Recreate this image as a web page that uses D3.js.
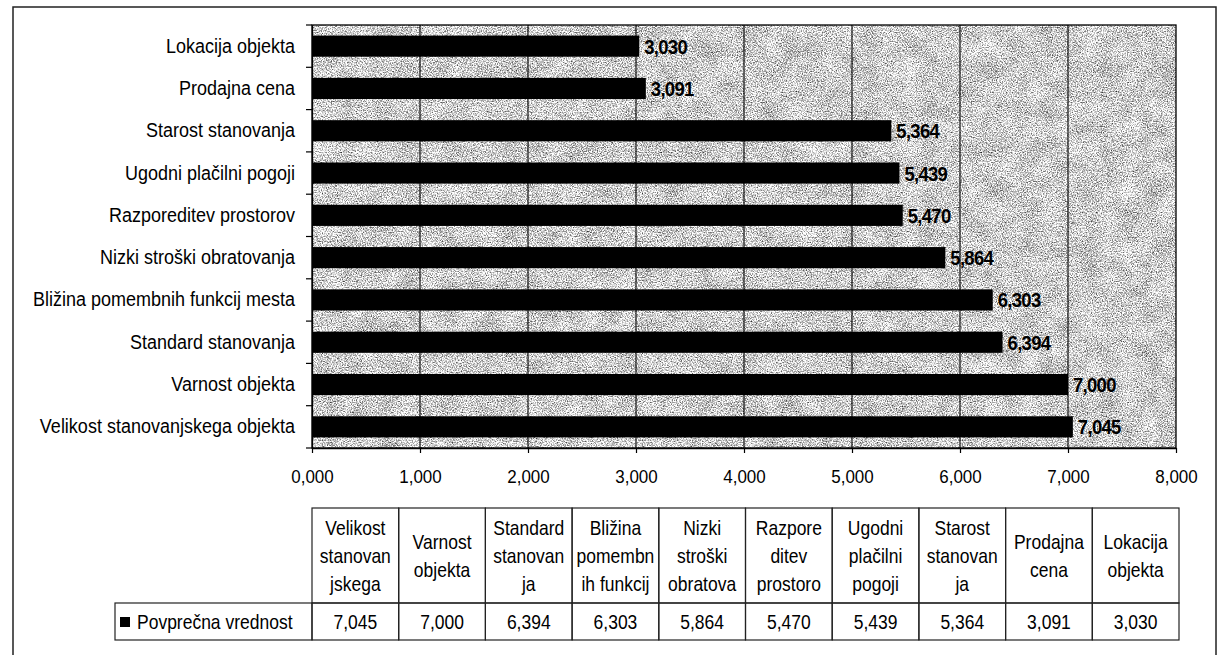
<!DOCTYPE html>
<html>
<head>
<meta charset="utf-8">
<script src="https://cdn.jsdelivr.net/npm/d3@7"></script>
<style>
  html, body { margin: 0; padding: 0; background: #fff; }
  svg { display: block; font-family: "Liberation Sans", Arial, sans-serif; }
</style>
</head>
<body>
<svg id="chart" width="1219" height="655"></svg>
<script>
// Factors, listed top to bottom as they appear on the chart
const categories = [
  "Lokacija objekta",
  "Prodajna cena",
  "Starost stanovanja",
  "Ugodni plačilni pogoji",
  "Razporeditev prostorov",
  "Nizki stroški obratovanja",
  "Bližina pomembnih funkcij mesta",
  "Standard stanovanja",
  "Varnost objekta",
  "Velikost stanovanjskega objekta"
];
// Average rating per factor
const values = [3.030, 3.091, 5.364, 5.439, 5.470, 5.864, 6.303, 6.394, 7.000, 7.045];
// Value axis ticks
const xTicks = [0, 1, 2, 3, 4, 5, 6, 7, 8];
// Wrapped column headings of the data table (left to right)
const tableHeaders = [
  ["Velikost", "stanovan", "jskega"],
  ["Varnost", "objekta"],
  ["Standard", "stanovan", "ja"],
  ["Bližina", "pomembn", "ih funkcij"],
  ["Nizki", "stroški", "obratova"],
  ["Razpore", "ditev", "prostoro"],
  ["Ugodni", "plačilni", "pogoji"],
  ["Starost", "stanovan", "ja"],
  ["Prodajna", "cena"],
  ["Lokacija", "objekta"]
];
const seriesName = "Povprečna vrednost";

const locale = d3.formatLocale({ decimal: ",", thousands: ".", grouping: [3], currency: ["", " €"] });
const fmt = locale.format(".3f");

// Glyphs are drawn slightly taller than wide
const STRETCH = 1.12;
const tall = (x, y) => `translate(${x},${y}) scale(1,${STRETCH})`;

const svg = d3.select("#chart");

// Outer chart frame
svg.append("rect")
  .attr("x", 13).attr("y", 7)
  .attr("width", 1203).attr("height", 700)
  .attr("fill", "none").attr("stroke", "#222").attr("stroke-width", 1.5);

const plot = { left: 312, right: 1176, top: 25, bottom: 448 };

const x = d3.scaleLinear().domain([0, 8]).range([plot.left, plot.right]);
const y = d3.scaleBand().domain(categories).range([plot.top, plot.bottom]).paddingInner(0.5).paddingOuter(0.25);

// Grainy plot background: fine speckle gently modulated by soft blotches
const defs = svg.append("defs");
const f = defs.append("filter").attr("id", "grain")
  .attr("x", 0).attr("y", 0).attr("width", 1).attr("height", 1)
  .attr("color-interpolation-filters", "sRGB");
f.append("feTurbulence").attr("type", "fractalNoise")
  .attr("baseFrequency", 0.8).attr("numOctaves", 2).attr("seed", 7).attr("result", "fine");
f.append("feColorMatrix").attr("in", "fine").attr("type", "matrix")
  .attr("values", "1.6 0 0 0 -0.07  1.6 0 0 0 -0.07  1.6 0 0 0 -0.07  0 0 0 0 1")
  .attr("result", "fineG");
f.append("feTurbulence").attr("type", "fractalNoise")
  .attr("baseFrequency", 0.05).attr("numOctaves", 2).attr("seed", 11).attr("result", "coarse");
f.append("feColorMatrix").attr("in", "coarse").attr("type", "matrix")
  .attr("values", "1 0 0 0 0  1 0 0 0 0  1 0 0 0 0  0 0 0 0 1")
  .attr("result", "coarseG");
f.append("feComposite").attr("in", "fineG").attr("in2", "coarseG")
  .attr("operator", "arithmetic")
  .attr("k1", 0).attr("k2", 1).attr("k3", 0.3).attr("k4", -0.07);

svg.append("rect")
  .attr("x", plot.left).attr("y", plot.top)
  .attr("width", plot.right - plot.left).attr("height", plot.bottom - plot.top)
  .attr("fill", "#bbb").attr("filter", "url(#grain)");

// Vertical gridlines
svg.append("g")
  .selectAll("line")
  .data(xTicks.slice(1, -1))
  .join("line")
  .attr("x1", d => x(d)).attr("x2", d => x(d))
  .attr("y1", plot.top).attr("y2", plot.bottom)
  .attr("stroke", "#111").attr("stroke-width", 1.2);

// Bars
svg.append("g")
  .selectAll("rect")
  .data(categories)
  .join("rect")
  .attr("x", x(0))
  .attr("y", d => y(d))
  .attr("width", (d, i) => x(values[i]) - x(0))
  .attr("height", y.bandwidth())
  .attr("fill", "#000");

// Value labels
svg.append("g")
  .selectAll("text")
  .data(categories)
  .join("text")
  .attr("transform", (d, i) => tall(x(values[i]) + 5, y(d) + y.bandwidth() / 2))
  .attr("dy", "0.36em")
  .attr("font-size", 18.5)
  .attr("font-weight", "bold")
  .attr("letter-spacing", "-0.7")
  .attr("fill", "#000")
  .text((d, i) => fmt(values[i]));

// Plot border
svg.append("rect")
  .attr("x", plot.left).attr("y", plot.top)
  .attr("width", plot.right - plot.left).attr("height", plot.bottom - plot.top)
  .attr("fill", "none").attr("stroke", "#000").attr("stroke-width", 1.3);

// Category axis: labels at band centres, ticks at band boundaries
const yAxis = svg.append("g")
  .attr("transform", `translate(${plot.left},0)`)
  .call(d3.axisLeft(y).tickSize(0).tickPadding(17).tickSizeOuter(0));
yAxis.select(".domain").attr("stroke", "#000").attr("stroke-width", 1.3);
yAxis.selectAll("text").attr("font-size", 18).attr("fill", "#000")
  .attr("font-family", "'Liberation Sans', Arial, sans-serif")
  .attr("transform", `scale(1,${STRETCH})`);

svg.append("g")
  .selectAll("line")
  .data(d3.range(categories.length + 1))
  .join("line")
  .attr("x1", plot.left - 6).attr("x2", plot.left)
  .attr("y1", i => plot.top + i * (plot.bottom - plot.top) / categories.length)
  .attr("y2", i => plot.top + i * (plot.bottom - plot.top) / categories.length)
  .attr("stroke", "#000").attr("stroke-width", 1.2);

// Value axis
const xAxis = svg.append("g")
  .attr("transform", `translate(0,${plot.bottom})`)
  .call(d3.axisBottom(x).tickValues(xTicks).tickFormat(fmt).tickSize(5).tickPadding(16).tickSizeOuter(0));
xAxis.select(".domain").attr("stroke", "#000").attr("stroke-width", 1.3);
xAxis.selectAll(".tick line").attr("stroke", "#000").attr("stroke-width", 1.2);
xAxis.selectAll("text").attr("font-size", 17).attr("fill", "#000")
  .attr("font-family", "'Liberation Sans', Arial, sans-serif")
  .attr("y", 0).attr("dy", 0)
  .attr("transform", tall(0, 35));

// Data table
const table = { left: 312, right: 1179, headTop: 508, headBottom: 603, rowBottom: 640, legendLeft: 115 };
const tableValues = values.slice().reverse();
const col = d3.scaleBand().domain(d3.range(tableHeaders.length)).range([table.left, table.right]);

const tg = svg.append("g").attr("font-size", 17.5).attr("fill", "#000");

// Header cells
tg.selectAll("rect.head")
  .data(tableHeaders)
  .join("rect").attr("class", "head")
  .attr("x", (d, i) => col(i)).attr("y", table.headTop)
  .attr("width", col.bandwidth()).attr("height", table.headBottom - table.headTop)
  .attr("fill", "none").attr("stroke", "#222").attr("stroke-width", 1.2);

// Value cells
tg.selectAll("rect.val")
  .data(tableValues)
  .join("rect").attr("class", "val")
  .attr("x", (d, i) => col(i)).attr("y", table.headBottom)
  .attr("width", col.bandwidth()).attr("height", table.rowBottom - table.headBottom)
  .attr("fill", "none").attr("stroke", "#222").attr("stroke-width", 1.2);

// Legend cell
tg.append("rect")
  .attr("x", table.legendLeft).attr("y", table.headBottom)
  .attr("width", table.left - table.legendLeft).attr("height", table.rowBottom - table.headBottom)
  .attr("fill", "none").attr("stroke", "#222").attr("stroke-width", 1.2);

const lineGap = 28;
const headMid = (table.headTop + table.headBottom) / 2;
tableHeaders.forEach((lines, i) => {
  lines.forEach((ln, j) => {
    tg.append("text")
      .attr("text-anchor", "middle")
      .attr("transform", tall(col(i) + col.bandwidth() / 2, headMid + (j - (lines.length - 1) / 2) * lineGap))
      .attr("dy", "0.36em")
      .text(ln);
  });
});

tg.selectAll("text.val")
  .data(tableValues)
  .join("text").attr("class", "val")
  .attr("text-anchor", "middle")
  .attr("transform", (d, i) => tall(col(i) + col.bandwidth() / 2, (table.headBottom + table.rowBottom) / 2))
  .attr("dy", "0.36em")
  .text(d => fmt(d));

tg.append("rect")
  .attr("x", 120).attr("y", 617).attr("width", 10).attr("height", 10)
  .attr("fill", "#000");
tg.append("text")
  .attr("transform", tall(137, (table.headBottom + table.rowBottom) / 2))
  .attr("dy", "0.36em")
  .text(seriesName);
</script>
</body>
</html>
